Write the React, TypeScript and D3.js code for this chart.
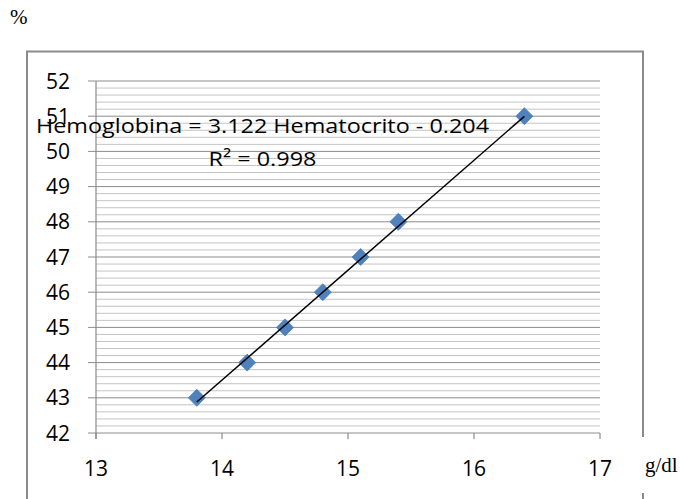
import React, { useEffect } from "react";
import * as d3 from "d3";

// Hematocrit (g/dl) vs hemoglobin (%) readings
const hematocrito = [13.8, 14.2, 14.5, 14.8, 15.1, 15.4, 16.4];
const hemoglobina = [43, 44, 45, 46, 47, 48, 51];

// Linear trend line coefficients
const slope = 3.122;
const intercept = -0.204;
const rSquared = 0.998;

const xTicks = [13, 14, 15, 16, 17];
const yTicks = [42, 43, 44, 45, 46, 47, 48, 49, 50, 51, 52];

const W = 680;
const H = 499;
const plot = { left: 96, right: 600, top: 81, bottom: 433 };
const sans = "'Open Sans', Lato, sans-serif";
const serif = "'Liberation Serif', 'Times New Roman', serif";

export default function App() {
  useEffect(() => {
    document.body.style.margin = "0";
  }, []);

  const x = d3.scaleLinear().domain([13, 17]).range([plot.left, plot.right]);
  const y = d3.scaleLinear().domain([42, 52]).range([plot.bottom, plot.top]);

  const minorTicks = d3.range(42, 52.0001, 0.2).filter(
    (v) => Math.abs(v - Math.round(v)) > 1e-6
  );

  const xMin = d3.min(hematocrito) as number;
  const xMax = d3.max(hematocrito) as number;
  const trend = d3
    .line<number>()
    .x((d) => x(d))
    .y((d) => y(slope * d + intercept));

  const r = 8.5;
  const diamondPath = `M0,${-r}L${r},0L0,${r}L${-r},0Z`;

  const eqX = 262.5;

  return (
    <svg width={W} height={H} style={{ display: "block", background: "#fff" }}>
      {/* outer chart frame */}
      <path
        d={`M27,${H}V51.5H643V${H}`}
        fill="none"
        stroke="#8a8a8a"
        strokeWidth={2}
      />

      {/* minor gridlines */}
      {minorTicks.map((v, i) => (
        <line
          key={`mn${i}`}
          x1={plot.left}
          x2={plot.right}
          y1={y(v)}
          y2={y(v)}
          stroke="#c4c4c4"
          strokeWidth={1}
        />
      ))}
      {/* major gridlines */}
      {yTicks.map((v) => (
        <line
          key={`mj${v}`}
          x1={plot.left - 8}
          x2={plot.right}
          y1={y(v)}
          y2={y(v)}
          stroke="#8c8c8c"
          strokeWidth={1}
        />
      ))}

      {/* y axis line */}
      <line
        x1={plot.left}
        x2={plot.left}
        y1={plot.top}
        y2={plot.bottom + 6}
        stroke="#8c8c8c"
        strokeWidth={1.2}
      />
      {/* x axis ticks */}
      {xTicks.map((v) => (
        <line
          key={`xt${v}`}
          x1={x(v)}
          x2={x(v)}
          y1={plot.bottom}
          y2={plot.bottom + 6}
          stroke="#8c8c8c"
          strokeWidth={1.2}
        />
      ))}

      {/* y tick labels */}
      {yTicks.map((v) => (
        <text
          key={`yl${v}`}
          x={70}
          y={y(v)}
          dy="0.36em"
          textAnchor="end"
          fontFamily={sans}
          fontSize={21}
          fill="#000"
        >
          {v}
        </text>
      ))}
      {/* x tick labels */}
      {xTicks.map((v) => (
        <text
          key={`xl${v}`}
          x={x(v)}
          y={476}
          textAnchor="middle"
          fontFamily={sans}
          fontSize={21}
          fill="#000"
        >
          {v}
        </text>
      ))}

      {/* data points */}
      {hematocrito.map((hx, i) => (
        <path
          key={`pt${i}`}
          d={diamondPath}
          transform={`translate(${x(hx)},${y(hemoglobina[i])})`}
          fill="#4f81bd"
          stroke="#4a7ebb"
          strokeWidth={0.8}
        />
      ))}

      {/* trend line */}
      <path
        d={trend([xMin, xMax]) || ""}
        fill="none"
        stroke="#000"
        strokeWidth={1.5}
      />

      {/* regression equation */}
      <text
        x={eqX}
        y={133}
        textAnchor="middle"
        fontFamily={sans}
        fontSize={20}
        textLength={453}
        lengthAdjust="spacingAndGlyphs"
        fill="#000"
      >
        {`Hemoglobina = ${slope} Hematocrito - ${Math.abs(intercept)}`}
      </text>
      <text
        x={eqX}
        y={166}
        textAnchor="middle"
        fontFamily={sans}
        fontSize={20}
        textLength={108}
        lengthAdjust="spacingAndGlyphs"
        fill="#000"
      >
        {`R² = ${rSquared}`}
      </text>

      {/* unit labels */}
      <text x={10} y={24} fontFamily={serif} fontSize={21} fill="#000">
        %
      </text>
      <rect x={636} y={437} width={44} height={56} fill="#fff" />
      <text x={645} y={472} fontFamily={serif} fontSize={21} fill="#000">
        g/dl
      </text>
    </svg>
  );
}
